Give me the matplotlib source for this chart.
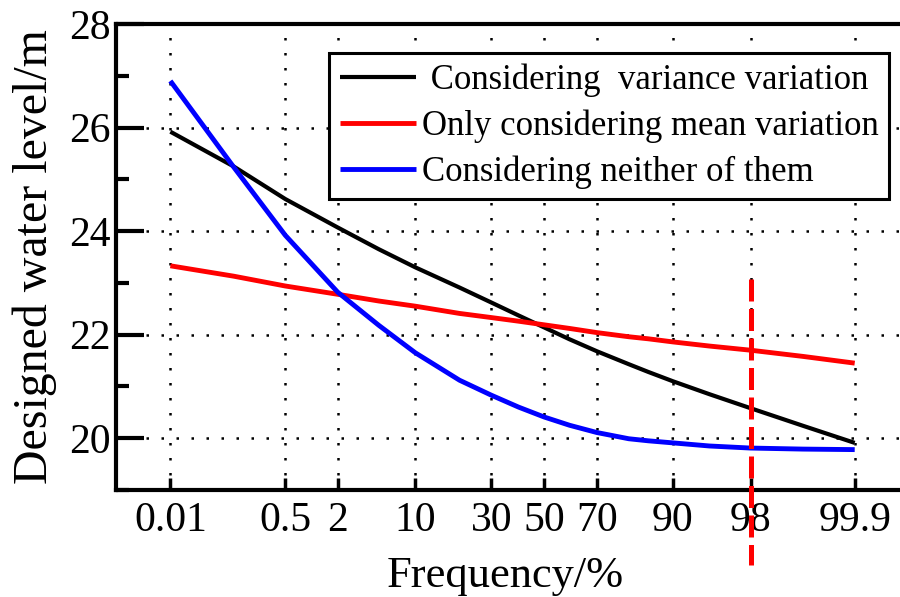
import matplotlib
matplotlib.use('Agg')
import matplotlib.pyplot as plt
from matplotlib.ticker import MultipleLocator
from statistics import NormalDist
import numpy as np

# exceedance frequency (%) and designed water level (m)
freq = [0.01, 0.1, 0.5, 2, 5, 10, 20, 30, 40, 50, 60, 70, 80, 85, 90, 95, 98, 99.5, 99.9]
level_variance = [25.92, 25.25, 24.62, 24.07, 23.65, 23.30, 22.91, 22.62, 22.37, 22.14,
                  21.91, 21.68, 21.43, 21.28, 21.10, 20.85, 20.58, 20.24, 19.91]
level_mean = [23.33, 23.13, 22.94, 22.78, 22.65, 22.55, 22.41, 22.33, 22.26, 22.19,
              22.12, 22.04, 21.96, 21.92, 21.86, 21.78, 21.70, 21.58, 21.45]
level_neither = [26.90, 25.24, 23.92, 22.82, 22.18, 21.65, 21.12, 20.83, 20.60, 20.41,
                 20.25, 20.11, 19.99, 19.95, 19.91, 19.85, 19.81, 19.79, 19.78]

tick_freq = [0.01, 0.5, 2, 10, 30, 50, 70, 90, 98, 99.9]
tick_labels = ['0.01', '0.5', '2', '10', '30', '50', '70', '90', '98', '99.9']

design_freq = 98
design_span = [23.07, 17.55]

labels = [' Considering  variance variation',
          'Only considering mean variation',
          'Considering neither of them']

nd = NormalDist()
_ppf = np.vectorize(lambda p: nd.inv_cdf(p), otypes=[float])
_cdf = np.vectorize(lambda z: nd.cdf(z), otypes=[float])


def forward(p):
    p = np.clip(np.asarray(p, dtype=float) / 100.0, 1e-12, 1 - 1e-12)
    return _ppf(p)


def inverse(z):
    return _cdf(np.asarray(z, dtype=float)) * 100.0


plt.rcParams['font.family'] = ['Liberation Serif', 'DejaVu Serif']

fig = plt.figure(figsize=(9, 5.97), dpi=100)
ax = fig.add_axes([116 / 900, 1 - 490 / 597, 1 - 116 / 900 + 0.02, (490 - 24) / 597])

ax.set_xscale('function', functions=(forward, inverse))

l1, = ax.plot(freq, level_variance, color='black', lw=3.0, solid_capstyle='butt')
l2, = ax.plot(freq, level_mean, color='red', lw=3.5, solid_capstyle='butt')
l3, = ax.plot(freq, level_neither, color='blue', lw=3.5, solid_capstyle='butt')

ax.plot([design_freq, design_freq], design_span, color='red', lw=3.6,
        dashes=(4.4, 1.5), clip_on=False, zorder=5)

ax.set_xlim(inverse(-4.26), inverse(3.72))
ax.set_ylim(19, 28)
ax.set_xticks(tick_freq)
ax.set_xticklabels(tick_labels)
ax.xaxis.set_minor_locator(plt.NullLocator())
ax.set_yticks([20, 22, 24, 26, 28])
ax.yaxis.set_minor_locator(MultipleLocator(1))

ax.grid(True, which='major', color='black', lw=1.8, linestyle=(0, (1, 5)))
ax.tick_params(axis='x', which='major', direction='in', length=9, width=2.5,
               labelsize=30, pad=8, top=False)
ax.tick_params(axis='y', which='major', direction='in', length=20, width=3,
               labelsize=30, pad=4, right=False)
ax.tick_params(axis='y', which='minor', direction='in', length=9, width=3, right=False)

for side in ['left', 'bottom', 'top']:
    ax.spines[side].set_linewidth(3)
ax.spines['right'].set_visible(False)

ax.set_xlabel('Frequency/%', fontsize=32, labelpad=12)
ax.xaxis.label.set_x(0.485)
ax.set_ylabel('Designed water level/m', fontsize=34.5)
ax.yaxis.set_label_coords(-0.074, 0.5)

leg = fig.legend([l1, l2, l3], labels, loc='upper right',
                 bbox_to_anchor=(889 / 900, 1 - 53 / 597), fontsize=25,
                 frameon=True, fancybox=False, framealpha=1, edgecolor='black',
                 handlelength=2.2, handletextpad=0.17, borderpad=0.3,
                 labelspacing=0.36, borderaxespad=0)
leg.get_frame().set_linewidth(2.2)

plt.savefig('out.png', dpi=100)
